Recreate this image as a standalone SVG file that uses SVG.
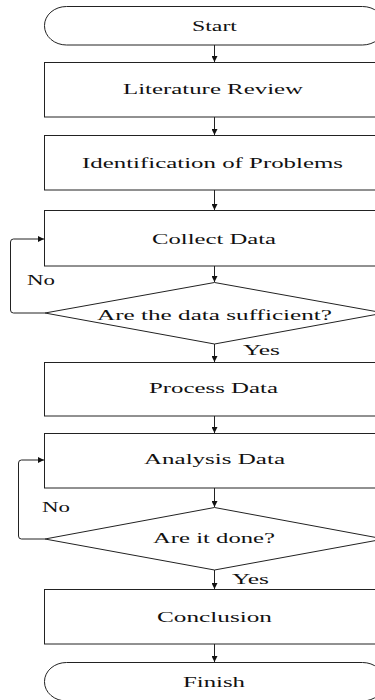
<svg xmlns="http://www.w3.org/2000/svg" width="375" height="700" viewBox="0 0 375 700">
<style>
.s{fill:#fff;stroke:#222;stroke-width:1}
.t{font-family:"Liberation Serif","Times New Roman",serif;font-size:15px;fill:#111}
.c{fill:none;stroke:#222;stroke-width:1}
</style>
<defs>
<marker id="ah" markerUnits="userSpaceOnUse" markerWidth="6" markerHeight="6" refX="6" refY="3" orient="auto">
<path d="M0,0 L6,3 L0,6 z" fill="#111"/>
</marker>
</defs>
<rect width="375" height="700" fill="#fff"/>
<g id="connectors">
<line class="c" x1="214.5" y1="45" x2="214.5" y2="62" marker-end="url(#ah)"/>
<line class="c" x1="214.5" y1="117" x2="214.5" y2="135" marker-end="url(#ah)"/>
<line class="c" x1="214.5" y1="190" x2="214.5" y2="210" marker-end="url(#ah)"/>
<line class="c" x1="214.5" y1="266" x2="214.5" y2="282" marker-end="url(#ah)"/>
<line class="c" x1="214.5" y1="344" x2="214.5" y2="362" marker-end="url(#ah)"/>
<line class="c" x1="214.5" y1="416" x2="214.5" y2="433" marker-end="url(#ah)"/>
<line class="c" x1="214.5" y1="488" x2="214.5" y2="507" marker-end="url(#ah)"/>
<line class="c" x1="214.5" y1="570" x2="214.5" y2="589" marker-end="url(#ah)"/>
<line class="c" x1="214.5" y1="644" x2="214.5" y2="662" marker-end="url(#ah)"/>
<path class="c" d="M45,313 H13.5 Q10.5,313 10.5,310 V242 Q10.5,239 13.5,239 H44" marker-end="url(#ah)"/>
<path class="c" d="M45,539 H21.5 Q18.5,539 18.5,536 V463 Q18.5,460 21.5,460 H44" marker-end="url(#ah)"/>
<text class="t" x="27" y="285" textLength="28" lengthAdjust="spacingAndGlyphs">No</text>
<text class="t" x="243" y="355" textLength="37" lengthAdjust="spacingAndGlyphs">Yes</text>
<text class="t" x="42" y="512" textLength="28" lengthAdjust="spacingAndGlyphs">No</text>
<text class="t" x="232" y="584" textLength="37" lengthAdjust="spacingAndGlyphs">Yes</text>
</g>
<g id="start">
<rect class="s" x="44.5" y="6.5" width="340" height="38.5" rx="22" ry="19"/>
<text class="t" x="192" y="30.5" textLength="45" lengthAdjust="spacingAndGlyphs">Start</text>
</g>
<g id="literature">
<rect class="s" x="44.5" y="62.5" width="340" height="54.5"/>
<text class="t" x="123" y="94" textLength="180" lengthAdjust="spacingAndGlyphs">Literature Review</text>
</g>
<g id="identification">
<rect class="s" x="44.5" y="135.5" width="340" height="54.5"/>
<text class="t" x="82" y="168" textLength="261" lengthAdjust="spacingAndGlyphs">Identification of Problems</text>
</g>
<g id="collect">
<rect class="s" x="44.5" y="210.5" width="340" height="55.5"/>
<text class="t" x="152" y="244" textLength="124" lengthAdjust="spacingAndGlyphs">Collect Data</text>
</g>
<g id="decision1">
<polygon class="s" points="214.5,282.5 45,313 214.5,344 384,313"/>
<text class="t" x="97" y="319.5" textLength="235" lengthAdjust="spacingAndGlyphs">Are the data sufficient?</text>
</g>
<g id="process">
<rect class="s" x="44.5" y="362.5" width="340" height="53.5"/>
<text class="t" x="149" y="393" textLength="129" lengthAdjust="spacingAndGlyphs">Process Data</text>
</g>
<g id="analysis">
<rect class="s" x="44.5" y="433.5" width="340" height="54.5"/>
<text class="t" x="144" y="463.5" textLength="141" lengthAdjust="spacingAndGlyphs">Analysis Data</text>
</g>
<g id="decision2">
<polygon class="s" points="214.5,507.5 45,539 214.5,570 384,539"/>
<text class="t" x="153" y="543" textLength="122" lengthAdjust="spacingAndGlyphs">Are it done?</text>
</g>
<g id="conclusion">
<rect class="s" x="44.5" y="589.5" width="340" height="54.5"/>
<text class="t" x="157" y="622" textLength="115" lengthAdjust="spacingAndGlyphs">Conclusion</text>
</g>
<g id="finish">
<rect class="s" x="44.5" y="662.5" width="340" height="38.5" rx="22" ry="19"/>
<text class="t" x="183" y="687" textLength="62" lengthAdjust="spacingAndGlyphs">Finish</text>
</g>
</svg>
